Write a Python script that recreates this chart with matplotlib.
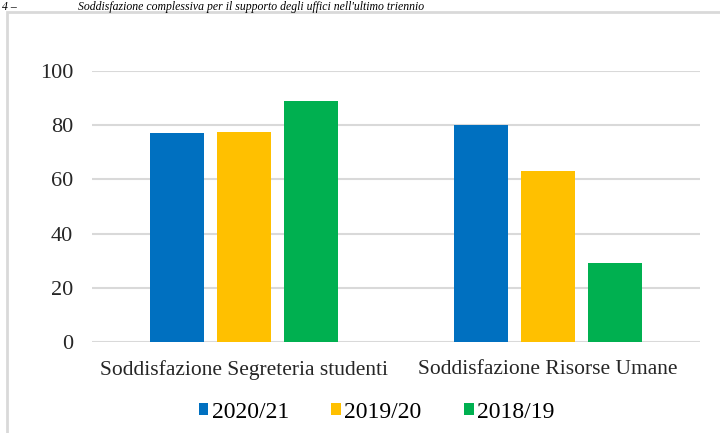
import matplotlib.pyplot as plt
from matplotlib.patches import Rectangle
import numpy as np

categories = ["Soddisfazione Segreteria studenti", "Soddisfazione Risorse Umane"]
years = ["2020/21", "2019/20", "2018/19"]
values_2021 = [77, 80]
values_1920 = [77.5, 63]
values_1819 = [89, 29]
colors = ["#0070C0", "#FFC000", "#00B050"]

plt.rcParams["font.family"] = ["Liberation Serif", "DejaVu Serif"]

fig = plt.figure(figsize=(7.2, 4.33), dpi=100)

# chart frame (partially cut off like in the source document)
fig.patches.append(Rectangle((7 / 720, -0.1), 1.0, 1 - 12 / 433 + 0.1,
                             transform=fig.transFigure, fill=False,
                             edgecolor="#d9d9d9", linewidth=2))

# caption squeezed into the strip above the frame
fig.text(2 / 720, 1 - 1 / 433, "4 \u2013", fontsize=8.5, style="italic",
         va="top", ha="left")
fig.text(78 / 720, 1 - 1 / 433,
         "Soddisfazione complessiva per il supporto degli uffici nell'ultimo triennio",
         fontsize=8.5, style="italic", va="top", ha="left")

ax = fig.add_axes([92 / 720, 1 - 342 / 433, 608 / 720, 271 / 433])

x = np.arange(len(categories))
width = 0.178
step = 0.22
series = [values_2021, values_1920, values_1819]
for i, (vals, lab, col) in enumerate(zip(series, years, colors)):
    ax.bar(x + (i - 1) * step, vals, width, color=col, label=lab, zorder=3)

ax.set_xlim(-0.5, 1.5)
ax.set_ylim(0, 100)
ax.set_yticks(range(0, 101, 20))
ax.set_xticks(x)
ax.set_xticklabels(categories, fontsize=15.5)
ax.grid(axis="y", color="#d9d9d9", linewidth=1.5, zorder=0)
for s in ax.spines.values():
    s.set_visible(False)
ax.tick_params(axis="both", length=0, colors="#262626")
ax.tick_params(axis="y", pad=13.5, labelsize=16)
ax.tick_params(axis="x", pad=13)

ax.legend(loc="upper center", bbox_to_anchor=(0.468, -0.142), ncol=3,
          frameon=False, fontsize=17, handlelength=0.4, handleheight=0.4,
          handletextpad=0.15, columnspacing=1.8)

plt.savefig("out.png", dpi=100)
plt.close()
